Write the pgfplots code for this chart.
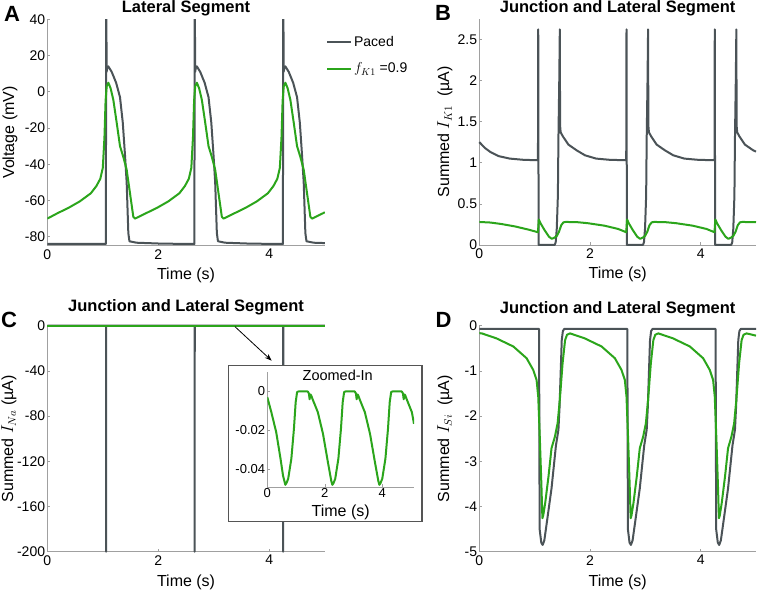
\documentclass[border=0pt]{standalone}
\usepackage{fontspec}
\setmainfont{Liberation Sans}
\usepackage{pgfplots}
\pgfplotsset{compat=1.18}
\usetikzlibrary{arrows.meta}
\definecolor{pgray}{HTML}{4B5357}
\definecolor{pgreen}{HTML}{2BA51B}
\definecolor{axgray}{HTML}{A0A0A0}
\definecolor{boxgray}{HTML}{555555}
\pgfplotsset{
  panel/.style={
    scale only axis, anchor=south west,
    axis lines=left, axis line style={-, draw=axgray, line width=0.8pt},
    tick style={draw=axgray, line width=0.6pt}, major tick length=3pt, tick align=inside,
    xmin=0, xmax=5, xtick={0,2,4}, enlargelimits=false,
    tick label style={font=\fontsize{14}{16}\selectfont},
    yticklabel style={inner sep=2pt},
    label style={font=\fontsize{16}{18}\selectfont},
    title style={font=\fontsize{16.5}{18}\selectfont\bfseries, anchor=base, inner sep=0pt, yshift=-6pt},
    /pgf/number format/assume math mode=true,
    scaled ticks=false,
    every axis plot/.append style={line width=2pt, line join=round},
  }
}
\begin{document}
\begin{tikzpicture}
\path[use as bounding box] (0pt,0pt) rectangle (758pt,590pt);
% ---------- A ----------
\begin{axis}[panel, at={(47.3pt,344.2pt)}, width=277.5pt, height=226.5pt,
  ymin=-85, ymax=40, ytick={-80,-60,...,40},
  ylabel={Voltage (mV)}, xlabel={Time (s)}, title={Lateral Segment},
  ylabel style={at={(axis description cs:-0.1344,0.5)}, anchor=center},
  xlabel style={at={(axis description cs:0.5,-0.147)}, anchor=base},
  title style={at={(axis description cs:0.5,1.031)}},
  legend style={draw=none, fill=none, at={(1.004,0.935)}, anchor=north west,
    font=\fontsize{14}{16}\selectfont, row sep=11pt, inner sep=0pt, nodes={inner sep=2pt},
    /tikz/every even column/.append style={column sep=4pt}},
  legend cell align=left,
  legend image code/.code={\draw[#1, line width=2pt] (0pt,0pt) -- (24pt,0pt);}]
\addplot[pgray] coordinates {(0,-84) (1.055,-84) (1.062,60) (1.069,11) (1.08,13) (1.10,14) (1.16,11) (1.24,5) (1.31,-3) (1.36,-17) (1.40,-35) (1.43,-50) (1.46,-78) (1.48,-82.5) (1.61,-83.3) (2.06,-83.8) (2.65,-84) (2.657,60) (2.664,11) (2.675,13) (2.695,14) (2.755,11) (2.835,5) (2.905,-3) (2.955,-17) (2.995,-35) (3.025,-50) (3.055,-78) (3.075,-82.5) (3.205,-83.3) (3.655,-83.8) (4.245,-84) (4.252,60) (4.259,11) (4.27,13) (4.29,14) (4.35,11) (4.43,5) (4.50,-3) (4.55,-17) (4.59,-35) (4.62,-50) (4.65,-78) (4.67,-82.5) (4.80,-83.3) (5,-83.5)};
\addlegendentry{Paced}
\addplot[pgreen] coordinates {(0,-70) (0.185,-67) (0.385,-64) (0.585,-60.5) (0.785,-56) (0.885,-52) (0.955,-48) (1.0,-42) (1.03,-25) (1.05,-5) (1.07,3) (1.10,5) (1.14,2) (1.19,-4.5) (1.25,-17) (1.31,-30) (1.37,-36) (1.43,-43) (1.49,-56) (1.55,-69) (1.58,-70) (1.78,-67) (1.98,-64) (2.18,-60.5) (2.38,-56) (2.48,-52) (2.55,-48) (2.595,-42) (2.625,-25) (2.645,-5) (2.665,3) (2.695,5) (2.735,2) (2.785,-4.5) (2.845,-17) (2.905,-30) (2.965,-36) (3.025,-43) (3.085,-56) (3.145,-69) (3.175,-70) (3.375,-67) (3.575,-64) (3.775,-60.5) (3.975,-56) (4.075,-52) (4.145,-48) (4.19,-42) (4.22,-25) (4.24,-5) (4.26,3) (4.29,5) (4.33,2) (4.38,-4.5) (4.44,-17) (4.50,-30) (4.56,-36) (4.62,-43) (4.68,-56) (4.74,-69) (4.77,-70) (4.97,-67) (5,-66.5)};
\addlegendentry{$f_{K1}$ =0.9}
\end{axis}
% ---------- B ----------
\begin{axis}[panel, at={(479.3pt,345pt)}, width=276.7pt, height=226.3pt, clip=false,
  ymin=0, ymax=2.75, ytick={0,0.5,...,2.5},
  ylabel={Summed $I_{K1}$\ \ (µA)}, xlabel={Time (s)}, title={Junction and Lateral Segment},
  ylabel style={at={(axis description cs:-0.124,0.5)}, anchor=center},
  xlabel style={at={(axis description cs:0.5,-0.15)}, anchor=base},
  title style={at={(axis description cs:0.5,1.027)}}]
\addplot[pgray] coordinates {(0,1.25) (0.1,1.18) (0.2,1.13) (0.35,1.08) (0.55,1.05) (0.8,1.035) (1.06,1.03) (1.065,2.62) (1.072,0) (1.36,0) (1.38,0.03) (1.40,0.2) (1.42,0.6) (1.43,1.3) (1.445,2.0) (1.455,2.62) (1.46,1.45) (1.47,1.37) (1.51,1.32) (1.61,1.22) (1.76,1.15) (1.91,1.09) (2.11,1.05) (2.36,1.035) (2.655,1.03) (2.66,2.62) (2.667,0) (2.955,0) (2.975,0.03) (2.995,0.2) (3.015,0.6) (3.025,1.3) (3.04,2.0) (3.05,2.62) (3.055,1.45) (3.065,1.37) (3.105,1.32) (3.205,1.22) (3.355,1.15) (3.505,1.09) (3.705,1.05) (3.955,1.035) (4.25,1.03) (4.255,2.62) (4.262,0) (4.55,0) (4.57,0.03) (4.59,0.2) (4.61,0.6) (4.62,1.3) (4.635,2.0) (4.645,2.62) (4.65,1.45) (4.66,1.37) (4.70,1.32) (4.80,1.22) (4.95,1.15) (5.0,1.135)};
\addplot[pgreen] coordinates {(0,0.28) (0.2,0.273) (0.4,0.255) (0.65,0.225) (0.9,0.185) (1.06,0.155) (1.075,0.31) (1.11,0.26) (1.18,0.18) (1.26,0.1) (1.31,0.075) (1.36,0.09) (1.40,0.11) (1.44,0.16) (1.48,0.24) (1.52,0.275) (1.56,0.28) (1.76,0.278) (1.96,0.265) (2.26,0.235) (2.51,0.195) (2.655,0.155) (2.67,0.31) (2.705,0.26) (2.775,0.18) (2.855,0.1) (2.905,0.075) (2.955,0.09) (2.995,0.11) (3.035,0.16) (3.075,0.24) (3.115,0.275) (3.155,0.28) (3.355,0.278) (3.555,0.265) (3.855,0.235) (4.105,0.195) (4.25,0.155) (4.265,0.31) (4.30,0.26) (4.37,0.18) (4.45,0.1) (4.50,0.075) (4.55,0.09) (4.59,0.11) (4.63,0.16) (4.67,0.24) (4.71,0.275) (4.75,0.28) (4.95,0.278) (5.0,0.277)};
\end{axis}
% ---------- C ----------
\begin{axis}[panel, at={(47.3pt,38.3pt)}, width=277.5pt, height=226pt, clip=false,
  ymin=-200, ymax=0, ytick={-200,-160,...,0},
  ylabel={Summed $I_{Na}$ (µA)}, xlabel={Time (s)}, title={Junction and Lateral Segment},
  ylabel style={at={(axis description cs:-0.138,0.5)}, anchor=center},
  xlabel style={at={(axis description cs:0.5,-0.152)}, anchor=base},
  title style={at={(axis description cs:0.5,1.062)}}]
\addplot[pgray] coordinates {(0,0) (1.058,0) (1.06,-200) (1.062,0) (2.653,0) (2.655,-200) (2.657,0) (4.248,0) (4.25,-200) (4.252,0) (5,0)};
\addplot[pgreen] coordinates {(0,0) (5,0)};
\end{axis}
% inset box
\draw[boxgray, line width=1.2pt, fill=white] (228.7pt,68.3pt) rectangle (422pt,224.3pt);
\begin{axis}[panel, at={(267.3pt,103pt)}, width=146.7pt, height=115pt,
  xmax=5.1, ymin=-0.049, ymax=0.01, ytick={-0.04,-0.02,0}, yticklabels={-0.04,-0.02,0},
  tick label style={font=\fontsize{13}{15}\selectfont},
  xticklabel style={inner sep=1pt},
  xlabel={Time (s)}, xlabel style={at={(axis description cs:0.5,-0.26)}, anchor=base},
  title={Zoomed-In}, title style={at={(axis description cs:0.48,1.0)}, anchor=north, yshift=2pt, font=\fontsize{14.5}{16}\selectfont}]
\addplot[pgreen] coordinates {(0,-0.0029) (0.14,-0.0106) (0.31,-0.0209) (0.46,-0.0345) (0.545,-0.043) (0.626,-0.0479) (0.666,-0.047) (0.726,-0.0448) (0.836,-0.0345) (0.926,-0.0191) (0.986,-0.0055) (1.036,-0.0003) (1.076,0) (1.406,0) (1.446,-0.001) (1.471,-0.004) (1.496,-0.0015) (1.526,-0.002) (1.576,-0.004) (1.756,-0.0106) (1.936,-0.0217) (2.106,-0.0362) (2.226,-0.046) (2.261,-0.0479) (2.301,-0.047) (2.361,-0.0448) (2.471,-0.0345) (2.561,-0.0191) (2.621,-0.0055) (2.671,-0.0003) (2.711,0) (3.041,0) (3.081,-0.001) (3.106,-0.004) (3.131,-0.0015) (3.161,-0.002) (3.211,-0.004) (3.391,-0.0106) (3.571,-0.0217) (3.741,-0.0362) (3.861,-0.046) (3.896,-0.0479) (3.936,-0.047) (3.996,-0.0448) (4.106,-0.0345) (4.196,-0.0191) (4.256,-0.0055) (4.306,-0.0003) (4.346,0) (4.676,0) (4.716,-0.001) (4.741,-0.004) (4.766,-0.0015) (4.796,-0.002) (4.846,-0.004) (5.026,-0.0106) (5.1,-0.0166)};
\end{axis}
% ---------- D ----------
\begin{axis}[panel, at={(479.3pt,38.3pt)}, width=276.7pt, height=226pt,
  ymin=-5, ymax=0, ytick={-5,-4,...,0},
  ylabel={Summed $I_{Si}$\ \ (µA)}, xlabel={Time (s)}, title={Junction and Lateral Segment},
  ylabel style={at={(axis description cs:-0.124,0.5)}, anchor=center},
  xlabel style={at={(axis description cs:0.5,-0.155)}, anchor=base},
  title style={at={(axis description cs:0.5,1.054)}}]
\addplot[pgray] coordinates {(0,-0.07) (1.08,-0.07) (1.09,-4.5) (1.12,-4.8) (1.145,-4.85) (1.175,-4.75) (1.215,-4.4) (1.305,-3.6) (1.385,-2.65) (1.43,-2.3) (1.45,-1.8) (1.47,-1.05) (1.49,-0.32) (1.51,-0.12) (1.535,-0.07) (2.675,-0.07) (2.685,-4.5) (2.715,-4.8) (2.74,-4.85) (2.77,-4.75) (2.81,-4.4) (2.90,-3.6) (2.98,-2.65) (3.025,-2.3) (3.045,-1.8) (3.065,-1.05) (3.085,-0.32) (3.105,-0.12) (3.13,-0.07) (4.27,-0.07) (4.28,-4.5) (4.31,-4.8) (4.335,-4.85) (4.365,-4.75) (4.405,-4.4) (4.495,-3.6) (4.575,-2.65) (4.62,-2.3) (4.64,-1.8) (4.66,-1.05) (4.68,-0.32) (4.70,-0.12) (4.725,-0.07) (5,-0.07)};
\addplot[pgreen] coordinates {(0,-0.165) (0.045,-0.17) (0.31,-0.28) (0.615,-0.46) (0.855,-0.72) (0.975,-0.98) (1.035,-1.2) (1.065,-1.57) (1.095,-2.53) (1.125,-3.63) (1.14,-4.26) (1.155,-4.2) (1.19,-3.93) (1.25,-3.34) (1.305,-2.71) (1.365,-2.46) (1.415,-2.16) (1.455,-1.64) (1.505,-0.83) (1.55,-0.32) (1.585,-0.2) (1.64,-0.17) (1.905,-0.28) (2.21,-0.46) (2.45,-0.72) (2.57,-0.98) (2.63,-1.2) (2.66,-1.57) (2.69,-2.53) (2.72,-3.63) (2.735,-4.26) (2.75,-4.2) (2.785,-3.93) (2.845,-3.34) (2.90,-2.71) (2.96,-2.46) (3.01,-2.16) (3.05,-1.64) (3.10,-0.83) (3.145,-0.32) (3.18,-0.2) (3.235,-0.17) (3.50,-0.28) (3.805,-0.46) (4.045,-0.72) (4.165,-0.98) (4.225,-1.2) (4.255,-1.57) (4.285,-2.53) (4.315,-3.63) (4.33,-4.26) (4.345,-4.2) (4.38,-3.93) (4.44,-3.34) (4.495,-2.71) (4.555,-2.46) (4.605,-2.16) (4.645,-1.64) (4.695,-0.83) (4.74,-0.32) (4.775,-0.2) (4.83,-0.17) (5,-0.22)};
\end{axis}
% arrow and panel letters
\draw[-{Stealth[length=7pt,width=5pt]}, line width=0.8pt] (235pt,263.3pt) -- (271.7pt,229.3pt);
\node[font=\fontsize{22}{24}\selectfont\bfseries] at (12pt,576pt) {A};
\node[font=\fontsize{22}{24}\selectfont\bfseries] at (443pt,577pt) {B};
\node[font=\fontsize{22}{24}\selectfont\bfseries] at (9pt,270pt) {C};
\node[font=\fontsize{22}{24}\selectfont\bfseries] at (443.5pt,270pt) {D};
\end{tikzpicture}
\end{document}
